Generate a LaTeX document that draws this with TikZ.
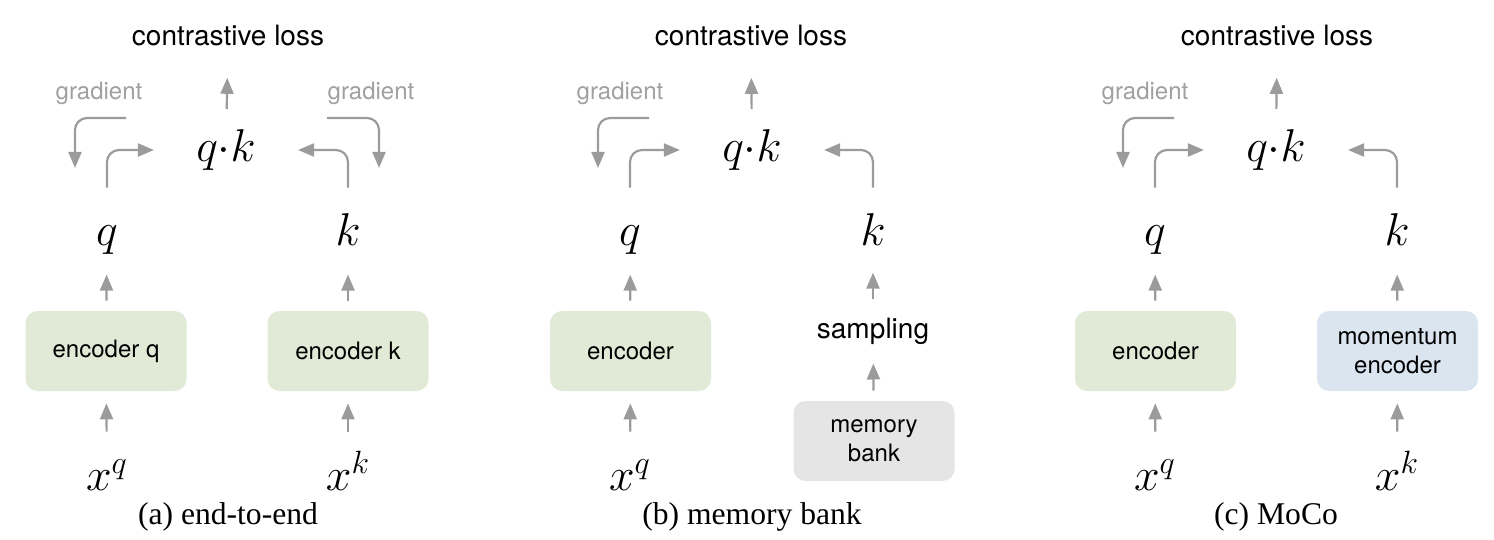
\RequirePackage{fix-cm}
\documentclass[tikz,border=0pt]{standalone}
\usepackage{amsmath}
\usepackage{fontspec}
\newfontfamily\helv{TeX Gyre Heros}
\newfontfamily\capfont{Liberation Serif}
\usepackage{tikz}
\usetikzlibrary{arrows.meta}

\definecolor{arrowgray}{RGB}{155,155,155}
\definecolor{gradgray}{RGB}{160,160,160}
\definecolor{encgreen}{RGB}{225,234,214}
\definecolor{momblue}{RGB}{218,229,240}
\definecolor{bankgray}{RGB}{229,229,229}

\begin{document}
\begin{tikzpicture}[
    x=0.5pt, y=-0.5pt,
    sym_style/.style={font=\fontsize{23}{28}\selectfont, inner sep=0pt, text height=16pt, text depth=4.6pt},
    loss_style/.style={font=\helv\fontsize{14}{16}\selectfont, inner sep=0pt, anchor=base},
    grad_style/.style={font=\helv\fontsize{12}{14}\selectfont, text=gradgray, inner sep=0pt, anchor=base},
    box_style/.style={rounded corners=6pt, minimum width=80.5pt, minimum height=40pt, inner sep=0pt, align=center, font=\helv\fontsize{12}{14.5}\selectfont},
    cap_style/.style={font=\capfont\fontsize{15.8}{18}\selectfont, inner sep=0pt, anchor=base},
    flow/.style={draw=arrowgray, line width=1.1pt, -{Triangle[length=8pt,width=6.5pt]}},
    bend_flow/.style={flow, rounded corners=6pt}
]
\useasboundingbox (0,0) rectangle (1494,540);

% (a) end-to-end
\node[loss_style] (lossA) at (228,46) {contrastive loss};
\node[sym_style] (qkA) at (226,150) {$q{\cdot}k$};
\node[sym_style] (qA) at (107,233.6) {$q$};
\node[sym_style] (kA) at (348,233.6) {$k$};
\node[box_style, fill=encgreen] (encqA) at (106,351) {encoder q};
\node[box_style, fill=encgreen] (enckA) at (348,351) {encoder k};
\node[sym_style] (xqA) at (107,478.6) {$x^q$};
\node[sym_style] (xkA) at (348,478.6) {$x^k$};
\node[cap_style] (capA) at (228,524) {(a) end-to-end};
\node[grad_style] (gradqA) at (99,100) {gradient};
\node[grad_style] (gradkA) at (371,100) {gradient};
\coordinate (gqA1) at (126,118);
\coordinate (gqA2) at (75,168);
\coordinate (gkA1) at (327,118);
\coordinate (gkA2) at (379,168);

\draw[flow, shorten <=13pt, shorten >=6pt] (xqA) -- (encqA);
\draw[flow, shorten <=13pt, shorten >=6pt] (xkA) -- (enckA);
\draw[flow, shorten <=5pt, shorten >=10pt] (encqA) -- (qA);
\draw[flow, shorten <=5pt, shorten >=10pt] (enckA) -- (kA);
\draw[bend_flow, shorten <=12.5pt, shorten >=21pt] (qA) |- (qkA);
\draw[bend_flow, shorten <=12.5pt, shorten >=21pt] (kA) |- (qkA);
\draw[flow, shorten <=10pt, shorten >=15.5pt] (qkA) -- (lossA);
\draw[bend_flow] (gqA1) -| (gqA2);
\draw[bend_flow] (gkA1) -| (gkA2);

% (b) memory bank
\node[loss_style] (lossB) at (751,46) {contrastive loss};
\node[sym_style] (qkB) at (752,150) {$q{\cdot}k$};
\node[sym_style] (qB) at (630,233.6) {$q$};
\node[sym_style] (kB) at (873,233.6) {$k$};
\node[box_style, fill=encgreen] (encB) at (630.5,351) {encoder};
\node[loss_style] (sampB) at (873,338) {sampling};
\node[box_style, fill=bankgray] (bankB) at (874,441) {memory\\bank};
\node[sym_style] (xqB) at (630,478.6) {$x^q$};
\node[cap_style] (capB) at (752,524) {(b) memory bank};
\node[grad_style] (gradqB) at (620,100) {gradient};
\coordinate (gqB1) at (649,118);
\coordinate (gqB2) at (598,168);

\draw[flow, shorten <=13pt, shorten >=6pt] (xqB) -- (encB);
\draw[flow, shorten <=5pt, shorten >=10pt] (encB) -- (qB);
\draw[flow, shorten <=5pt, shorten >=9.5pt] (bankB) -- (sampB);
\draw[flow, shorten <=9pt, shorten >=9pt] (sampB) -- (kB);
\draw[bend_flow, shorten <=12.5pt, shorten >=21pt] (qB) |- (qkB);
\draw[bend_flow, shorten <=12.5pt, shorten >=21pt] (kB) |- (qkB);
\draw[flow, shorten <=10pt, shorten >=15.5pt] (qkB) -- (lossB);
\draw[bend_flow] (gqB1) -| (gqB2);

% (c) MoCo
\node[loss_style] (lossC) at (1277,46) {contrastive loss};
\node[sym_style] (qkC) at (1276,150) {$q{\cdot}k$};
\node[sym_style] (qC) at (1155,233.6) {$q$};
\node[sym_style] (kC) at (1397,233.6) {$k$};
\node[box_style, fill=encgreen] (encC) at (1155.5,351) {encoder};
\node[box_style, fill=momblue] (momC) at (1397.5,351) {momentum\\encoder};
\node[sym_style] (xqC) at (1155,478.6) {$x^q$};
\node[sym_style] (xkC) at (1397,478.6) {$x^k$};
\node[cap_style] (capC) at (1276,524) {(c) MoCo};
\node[grad_style] (gradqC) at (1145,100) {gradient};
\coordinate (gqC1) at (1174,118);
\coordinate (gqC2) at (1123,168);

\draw[flow, shorten <=13pt, shorten >=6pt] (xqC) -- (encC);
\draw[flow, shorten <=13pt, shorten >=6pt] (xkC) -- (momC);
\draw[flow, shorten <=5pt, shorten >=10pt] (encC) -- (qC);
\draw[flow, shorten <=5pt, shorten >=10pt] (momC) -- (kC);
\draw[bend_flow, shorten <=12.5pt, shorten >=21pt] (qC) |- (qkC);
\draw[bend_flow, shorten <=12.5pt, shorten >=21pt] (kC) |- (qkC);
\draw[flow, shorten <=10pt, shorten >=15.5pt] (qkC) -- (lossC);
\draw[bend_flow] (gqC1) -| (gqC2);

\end{tikzpicture}
\end{document}
